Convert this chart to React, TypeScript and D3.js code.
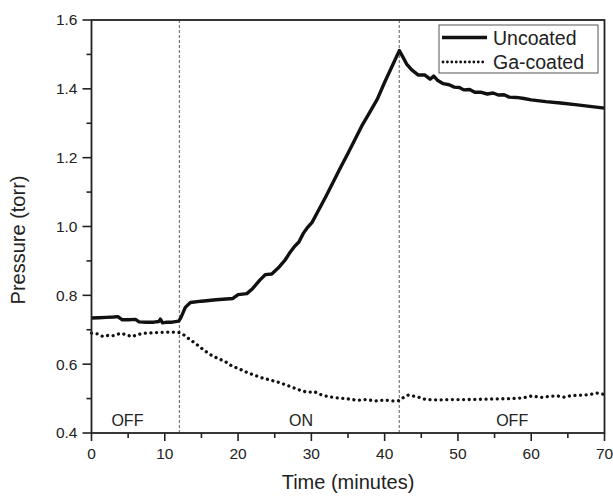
import React from "react";
import * as d3 from "d3";

// Time (minutes) and pressure (torr) for each sample
const uncoatedTime = [0, 1, 2, 3, 3.6, 4.2, 5, 6, 6.5, 7.5, 8.5, 9.2, 9.4, 9.7, 10.3, 11, 11.9, 12.2, 12.8, 13.5, 15, 17, 19.3, 20, 21.2, 22, 23, 23.7, 24.6, 25.5, 26.4, 27, 27.7, 28.3, 28.9, 29.4, 30.1, 31, 32, 33, 34, 35, 36, 37, 38, 39, 40, 41, 42, 42.5, 43, 43.7, 44.6, 45.5, 46.2, 46.7, 47.2, 48, 48.8, 49.5, 50.2, 50.8, 51.6, 52.3, 53.2, 54, 54.8, 55.5, 56.3, 57, 58, 59, 60, 62, 64, 66, 68, 70];
const uncoatedPressure = [0.734, 0.735, 0.736, 0.737, 0.738, 0.729, 0.729, 0.73, 0.723, 0.722, 0.722, 0.724, 0.731, 0.72, 0.722, 0.722, 0.725, 0.735, 0.765, 0.779, 0.783, 0.787, 0.791, 0.802, 0.805, 0.82, 0.845, 0.86, 0.862, 0.88, 0.902, 0.922, 0.942, 0.955, 0.98, 0.995, 1.012, 1.048, 1.088, 1.13, 1.172, 1.213, 1.255, 1.297, 1.333, 1.37, 1.419, 1.465, 1.511, 1.492, 1.472, 1.455, 1.44, 1.44, 1.428, 1.437, 1.425, 1.415, 1.412, 1.405, 1.404, 1.397, 1.398, 1.39, 1.39, 1.385, 1.388, 1.382, 1.383, 1.376, 1.375, 1.372, 1.368, 1.363, 1.359, 1.354, 1.349, 1.344];

const coatedTime = [0, 0.8, 1.6, 2.3, 3, 4, 4.8, 5.5, 6.3, 7.1, 8, 9, 10, 11, 12, 12.6, 13.4, 14.2, 15.2, 16.2, 17.2, 18.2, 19.2, 20.2, 21.2, 22.2, 23.3, 24.4, 25.4, 26.5, 27.5, 28.5, 29.5, 30.4, 31.2, 32.2, 33.5, 35, 36.3, 37.5, 38.8, 40, 41, 42, 42.6, 43.2, 44.5, 45.5, 47, 49, 51, 53, 55, 57, 58.8, 60.2, 61.2, 62.4, 63.5, 64.5, 65.5, 67, 68, 69, 70];
const coatedPressure = [0.69, 0.688, 0.68, 0.684, 0.683, 0.69, 0.685, 0.68, 0.686, 0.69, 0.691, 0.692, 0.693, 0.693, 0.692, 0.685, 0.672, 0.66, 0.643, 0.628, 0.617, 0.608, 0.594, 0.586, 0.576, 0.568, 0.56, 0.554, 0.548, 0.54, 0.532, 0.524, 0.518, 0.52, 0.512, 0.506, 0.502, 0.499, 0.495, 0.497, 0.493, 0.496, 0.493, 0.494, 0.504, 0.51, 0.505, 0.498, 0.496, 0.497, 0.497, 0.498, 0.499, 0.5, 0.502, 0.508, 0.503, 0.506, 0.508, 0.504, 0.509, 0.51, 0.512, 0.516, 0.512];

const switchTimes = [12, 42];
const phaseLabels = ["OFF", "ON", "OFF"];
const phaseLabelTimes = [4.9, 28.6, 57.4];

const xMajor = [0, 10, 20, 30, 40, 50, 60, 70];
const xMinor = [5, 15, 25, 35, 45, 55, 65];
const yMajor = [0.4, 0.6, 0.8, 1.0, 1.2, 1.4, 1.6];
const yMinor = [0.5, 0.7, 0.9, 1.1, 1.3, 1.5];

const W = 613;
const H = 496;
const left = 91.5;
const right = 604.5;
const top = 20;
const bottom = 433;
const font = "'Liberation Sans', Arial, sans-serif";
const ink = "#111";

export default function App() {
  const x = d3.scaleLinear().domain([0, 70]).range([left, right]);
  const y = d3.scaleLinear().domain([0.4, 1.6]).range([bottom, top]);

  const line = d3
    .line<[number, number]>()
    .x((d) => x(d[0]))
    .y((d) => y(d[1]))
    .curve(d3.curveLinear);

  const uncoated = uncoatedTime.map((t, i) => [t, uncoatedPressure[i]] as [number, number]);
  const coated = coatedTime.map((t, i) => [t, coatedPressure[i]] as [number, number]);

  return (
    <svg
      width={W}
      height={H}
      style={{ position: "absolute", left: 0, top: 0, background: "#fff" }}
      fontFamily={font}
    >
      {/* switch markers */}
      {switchTimes.map((t) => (
        <line
          key={t}
          x1={x(t)}
          x2={x(t)}
          y1={top}
          y2={bottom}
          stroke="#777"
          strokeWidth={1.2}
          strokeDasharray="3 2"
        />
      ))}

      {/* data */}
      <path d={line(uncoated) || ""} fill="none" stroke={ink} strokeWidth={3.4} strokeLinejoin="round" />
      <path
        d={line(coated) || ""}
        fill="none"
        stroke={ink}
        strokeWidth={3.3}
        strokeLinecap="round"
        strokeDasharray="0.01 5.6"
      />

      {/* frame */}
      <rect x={left} y={top} width={right - left} height={bottom - top} fill="none" stroke="#222" strokeWidth={1.8} />

      {/* y axis ticks */}
      {yMajor.map((v) => (
        <g key={"ym" + v}>
          <line x1={left - 9} x2={left} y1={y(v)} y2={y(v)} stroke="#222" strokeWidth={1.6} />
          <text x={left - 14} y={y(v)} dy="0.35em" textAnchor="end" fontSize={15.5} fill="#222">
            {v.toFixed(1)}
          </text>
        </g>
      ))}
      {yMinor.map((v) => (
        <line key={"yn" + v} x1={left - 5} x2={left} y1={y(v)} y2={y(v)} stroke="#222" strokeWidth={1.6} />
      ))}

      {/* x axis ticks */}
      {xMajor.map((v) => (
        <g key={"xm" + v}>
          <line x1={x(v)} x2={x(v)} y1={bottom} y2={bottom + 8} stroke="#222" strokeWidth={1.6} />
          <text x={x(v)} y={459} textAnchor="middle" fontSize={15.5} fill="#222">
            {v}
          </text>
        </g>
      ))}
      {xMinor.map((v) => (
        <line key={"xn" + v} x1={x(v)} x2={x(v)} y1={bottom} y2={bottom + 5} stroke="#222" strokeWidth={1.6} />
      ))}

      {/* phase labels */}
      {phaseLabels.map((s, i) => (
        <text key={i} x={x(phaseLabelTimes[i])} y={426} textAnchor="middle" fontSize={16} fill="#222">
          {s}
        </text>
      ))}

      {/* axis titles */}
      <text x={(left + right) / 2} y={489} textAnchor="middle" fontSize={20} fill="#222">
        Time (minutes)
      </text>
      <text
        transform={`translate(25, 240) rotate(-90)`}
        textAnchor="middle"
        fontSize={20}
        fill="#222"
      >
        Pressure (torr)
      </text>

      {/* legend */}
      <rect x={439} y={25} width={159} height={48} fill="#fff" stroke="#555" strokeWidth={1} />
      <line x1={442} x2={487} y1={37.5} y2={37.5} stroke={ink} strokeWidth={3.4} />
      <text x={493} y={45} fontSize={19.5} fill="#222">
        Uncoated
      </text>
      <line
        x1={443}
        x2={487}
        y1={62}
        y2={62}
        stroke={ink}
        strokeWidth={2.8}
        strokeLinecap="round"
        strokeDasharray="0.01 4.4"
      />
      <text x={493} y={69} fontSize={19.5} fill="#222">
        Ga-coated
      </text>
    </svg>
  );
}
